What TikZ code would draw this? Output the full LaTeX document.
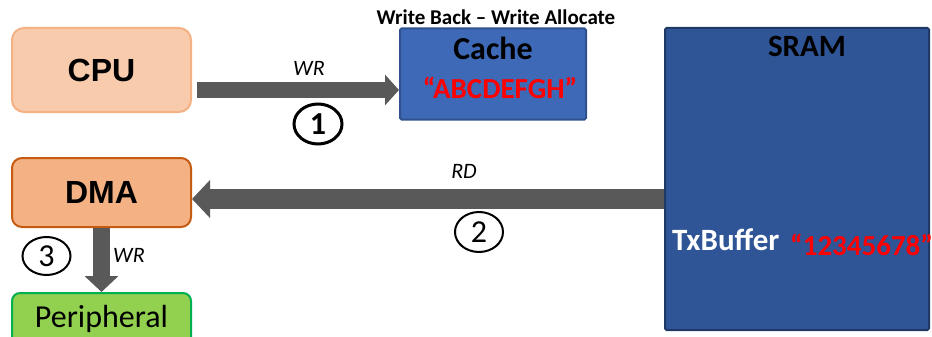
\documentclass[tikz,border=0pt]{standalone}
\usepackage{fontspec}
\setmainfont{Carlito}
\newfontfamily\arialfont{Liberation Sans}
\usetikzlibrary{arrows.meta,shapes.geometric,positioning}
\definecolor{cpufill}{HTML}{F8CBAD}
\definecolor{cpuline}{HTML}{F4B183}
\definecolor{dmafill}{HTML}{F4B183}
\definecolor{dmaline}{HTML}{C55A11}
\definecolor{perfill}{HTML}{92D050}
\definecolor{perline}{HTML}{00B050}
\definecolor{cachefill}{HTML}{3E69B7}
\definecolor{cacheline}{HTML}{2F528F}
\definecolor{sramfill}{HTML}{2F5597}
\definecolor{sramline}{HTML}{1F3864}
\definecolor{arrowgray}{HTML}{595959}
\tikzset{
    unit/.style={
        draw, rectangle, rounded corners=10pt,
        line width=2pt, minimum width=179pt,
        inner sep=0pt, text=black,
        font=\arialfont\fontsize{32}{36}\selectfont\bfseries
    },
    memory/.style={
        draw, rectangle, rounded corners=1.5pt,
        line width=2pt, inner sep=0pt
    },
    bigtext/.style={inner sep=0pt, font=\fontsize{#1}{#1}\selectfont\bfseries},
    redtext/.style={inner sep=0pt, text=red, font=\fontsize{29}{30}\selectfont\bfseries},
    access/.style={inner sep=0pt, font=\fontsize{22}{24}\selectfont\itshape},
    stepno/.style={
        draw, ellipse, line width=2pt,
        minimum width=48pt, minimum height=40pt, inner sep=0pt,
        font=\fontsize{32}{34}\selectfont
    },
    blockarrow/.style n args={3}{
        draw=arrowgray, line width=#1,
        -{Triangle[length=#3, width=#2, fill=arrowgray]}
    }
}
\begin{document}
\begin{tikzpicture}[x=1pt, y=-1pt]
    \useasboundingbox (0,0) rectangle (932,337);

    % masters on the left
    \node[unit, fill=cpufill, draw=cpuline, minimum height=84pt, rounded corners=12pt] (CPU) at (101.5,70) {CPU};
    \node[unit, fill=dmafill, draw=dmaline, minimum height=69pt] (DMA) at (101.5,192.5) {DMA};
    \node[unit, fill=perfill, draw=perline, minimum height=52pt, rounded corners=8pt,
          font=\fontsize{32}{34}\selectfont] (Periph) at (101.5,319) {Peripheral};

    % memories
    \node[memory, fill=cachefill, draw=cacheline, minimum width=186pt, minimum height=91pt] (Cache) at (493,74) {};
    \node[memory, fill=sramfill, draw=sramline, minimum width=264pt, minimum height=302pt] (SRAM) at (797,179) {};

    \node[bigtext=21] (policy) at (496,17) {Write Back -- Write Allocate};
    \node[bigtext=32] (cachename) at ([yshift=-21pt]Cache.north) {Cache};
    \node[redtext] (cachedata) at ([xshift=7pt,yshift=-14pt]Cache.center) {``ABCDEFGH''};
    \node[bigtext=31] (sramname) at ([xshift=10pt,yshift=-19pt]SRAM.north) {SRAM};
    \node[bigtext=31, text=white, anchor=base west] (txbuf) at (672,250) {TxBuffer};
    \node[redtext, anchor=base west] (txdata) at (790,255) {``12345678''};

    % transfers
    \coordinate (wrend) at ([yshift=-16pt]Cache.west);
    \draw[blockarrow={15pt}{30pt}{14pt}, shorten <=5pt] (wrend -| CPU.east) -- (wrend);
    \coordinate (rdend) at ([yshift=-6.5pt]DMA.east);
    \draw[blockarrow={20pt}{37pt}{18pt}] (rdend -| SRAM.west) -- (rdend);
    \draw[blockarrow={17pt}{33pt}{16pt}] (DMA.south) -- (Periph.north);

    \node[access] (wrone) at (309,68) {WR};
    \node[access] (rd) at (464,171) {RD};
    \node[access] (wrthree) at (129,255.5) {WR};

    \node[stepno, line width=3pt, font=\fontsize{32}{34}\selectfont\bfseries] (one) at (318,124) {1};
    \node[stepno] (two) at (479,232) {2};
    \node[stepno, minimum height=38pt] (three) at (46.5,256) {3};
\end{tikzpicture}
\end{document}
